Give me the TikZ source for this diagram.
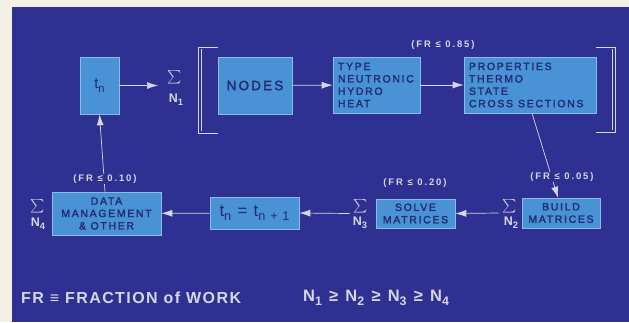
\documentclass[tikz,border=0pt]{standalone}
\usepackage{fontspec}
\usepackage{graphicx}
\setmainfont{Liberation Sans}
\newfontfamily\spacedfont[LetterSpace=16,FakeBold=2.2]{Liberation Sans}
\newfontfamily\labelfont[LetterSpace=20]{Liberation Sans}
\newfontfamily\widefont[LetterSpace=9]{Liberation Sans}
\newfontfamily\orderfont[LetterSpace=16]{Liberation Sans}
\usetikzlibrary{arrows.meta}
\definecolor{bgblue}{HTML}{2E3092}
\definecolor{boxblue}{HTML}{4A92D6}
\definecolor{boxedge}{HTML}{8DBBE8}
\definecolor{boxtext}{HTML}{222C72}
\definecolor{lite}{HTML}{D6D6E6}
\definecolor{cream}{HTML}{F3F0E6}
\newcommand\lowsub[1]{\raisebox{-0.45ex}{\fontsize{0.75em}{1em}\selectfont #1}}
\newcommand\bigsum{\scalebox{1.35}{$\sum$}}
\begin{document}
\begin{tikzpicture}[x=1pt,y=-1pt,
  box/.style={draw=boxedge,line width=0.6pt,fill=boxblue,text=boxtext,inner sep=0pt,
    font=\spacedfont\fontsize{10.5}{12.4}\selectfont},
  conn/.style={draw=lite,line width=0.7pt,-{Latex[length=11pt,width=7pt]}},
  frlab/.style={text=lite,fill=bgblue,inner sep=1pt,font=\labelfont\bfseries\fontsize{9.5}{10}\selectfont},
  sig/.style={text=lite,inner sep=0pt},
  nlab/.style={text=lite,inner sep=0pt,font=\bfseries\fontsize{12.5}{14}\selectfont},
  bottomtext/.style={text=lite,inner sep=0pt,font=\widefont\bfseries\fontsize{16}{18}\selectfont},
  brk/.style={draw=lite,line width=0.7pt}]
\fill[cream] (0,0) rectangle (629,322);
\fill[bgblue] (12,7) rectangle (629,322);

% top row
\node[box,minimum width=39pt,minimum height=57pt,font=\widefont\fontsize{15}{17}\selectfont] (tn) at (99.5,85.5) {t\lowsub{n}};
\node[sig] (s1) at (175,77) {\bigsum};
\node[nlab] (n1) at (176,100) {N\lowsub{1}};
\node[box,minimum width=74pt,minimum height=57pt,font=\spacedfont\fontsize{13.5}{15}\selectfont] (nodes) at (255,85.5) {NODES};
\node[box,minimum height=56pt,text width=77pt,inner xsep=5pt,align=left] (type) at (376.5,85) {TYPE\\NEUTRONIC\\HYDRO\\HEAT};
\node[box,minimum height=56pt,text width=122pt,inner xsep=5pt,align=left] (prop) at (530,85) {PROPERTIES\\THERMO\\STATE\\CROSS\hspace{5pt}SECTIONS};
\node[frlab] (fr85) at (443,45) {(FR ≤ 0.85)};

% brackets
\draw[brk] (218,47) -- (198,47) -- (198,133) -- (218,133);
\draw[brk] (201,49) -- (201,131);
\draw[brk] (596,47) -- (615,47) -- (615,132) -- (596,132);
\draw[brk] (612,49) -- (612,130);

% bottom row
\node[box,minimum width=78pt,minimum height=30pt,align=center] (build) at (561,213) {BUILD\\MATRICES};
\node[sig] (s2) at (510,206) {\bigsum};
\node[nlab] (n2) at (511,222.5) {N\lowsub{2}};

\node[box,minimum width=79pt,minimum height=29pt,align=center] (solve) at (415.5,213.5) {SOLVE\\MATRICES};
\node[sig] (s3) at (361,206) {\bigsum};
\node[nlab] (n3) at (360,222.5) {N\lowsub{3}};
\node[frlab] (fr20) at (415,183) {(FR ≤ 0.20)};

\node[box,minimum width=89pt,minimum height=32pt,font=\widefont\fontsize{17}{19}\selectfont] (tn1) at (254.5,213) {t\lowsub{n} = t\lowsub{n + 1}};

\node[box,minimum width=109pt,minimum height=43pt,align=center] (data) at (106.5,213.5) {DATA\\MANAGEMENT\\\&~OTHER};
\node[sig] (s4) at (38,206) {\bigsum};
\node[nlab] (n4) at (38,223.5) {N\lowsub{4}};

% connectors
\draw[conn] (tn) -- (158,85.5) coordinate (a1end);
\draw[conn] (nodes) -- (type);
\draw[conn] (type) -- (prop);
\draw[conn] ([xshift=2pt]prop.south) -- ([xshift=-3pt]build.north);
\draw[conn] (s2.west |- build.west) ++(-4,0) -- (solve.east);
\draw[conn] (s3.west |- solve.west) ++(-4,0) -- (tn1.east);
\draw[conn] (tn1) -- (data);
\draw[conn] ([xshift=-1.5pt]data.north) -- (tn.south);
\node[frlab] at (105,179) (fr10) {(FR ≤ 0.10)};
\node[frlab] at (562,177) (fr05) {(FR ≤ 0.05)};

% legend
\node[bottomtext,anchor=west] (legend) at (21,298) {FR ≡ FRACTION of WORK};
\node[bottomtext,anchor=west,font=\orderfont\bfseries\fontsize{16.5}{18}\selectfont] (order) at (303,298) {N\lowsub{1} ≥ N\lowsub{2} ≥ N\lowsub{3} ≥ N\lowsub{4}};
\end{tikzpicture}
\end{document}
